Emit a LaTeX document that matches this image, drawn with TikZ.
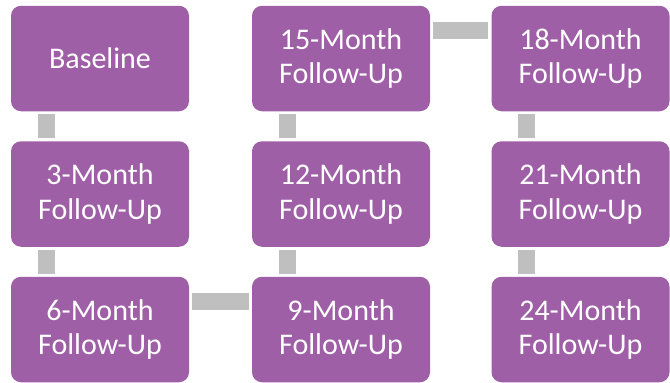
\documentclass[tikz,border=0pt]{standalone}
\usepackage{fontspec}
\setmainfont{Carlito}
\definecolor{boxpurple}{RGB}{158,95,166}
\definecolor{conngray}{RGB}{191,191,191}
\tikzset{
  stage/.style={rectangle, rounded corners=10pt, fill=boxpurple, draw=none,
    minimum width=178pt, minimum height=105.5pt, inner sep=0pt,
    text=white, align=center, font=\fontsize{30}{34.5}\selectfont},
  conn/.style={draw=conngray, line width=17pt, line cap=butt}
}
\begin{document}
\begin{tikzpicture}[x=1pt,y=-1pt]
\useasboundingbox (0,0) rectangle (670,383);
\node[stage] (b0)  at (100,58.5)  {Baseline};
\node[stage] (b3)  at (100,194)   {3-Month\\Follow-Up};
\node[stage] (b6)  at (100,329.5) {6-Month\\Follow-Up};
\node[stage] (b9)  at (341,329.5) {9-Month\\Follow-Up};
\node[stage] (b12) at (341,194)   {12-Month\\Follow-Up};
\node[stage] (b15) at (341,58.5)  {15-Month\\Follow-Up};
\node[stage] (b18) at (580.5,58.5)  {18-Month\\Follow-Up};
\node[stage] (b21) at (580.5,194)   {21-Month\\Follow-Up};
\node[stage] (b24) at (580.5,329.5) {24-Month\\Follow-Up};
\draw[conn] ([xshift=35.5pt,yshift=-3pt]b0.south west) -- ([xshift=35.5pt,yshift=3pt]b3.north west);
\draw[conn] ([xshift=35.5pt,yshift=-3pt]b3.south west) -- ([xshift=35.5pt,yshift=3pt]b6.north west);
\draw[conn] ([xshift=3pt,yshift=-25pt]b6.north east) -- ([xshift=-3pt,yshift=-25pt]b9.north west);
\draw[conn] ([xshift=35.5pt,yshift=3pt]b9.north west) -- ([xshift=35.5pt,yshift=-3pt]b12.south west);
\draw[conn] ([xshift=35.5pt,yshift=3pt]b12.north west) -- ([xshift=35.5pt,yshift=-3pt]b15.south west);
\draw[conn] ([xshift=3pt,yshift=-25pt]b15.north east) -- ([xshift=-3pt,yshift=-25pt]b18.north west);
\draw[conn] ([xshift=35.5pt,yshift=-3pt]b18.south west) -- ([xshift=35.5pt,yshift=3pt]b21.north west);
\draw[conn] ([xshift=35.5pt,yshift=-3pt]b21.south west) -- ([xshift=35.5pt,yshift=3pt]b24.north west);
\end{tikzpicture}
\end{document}
